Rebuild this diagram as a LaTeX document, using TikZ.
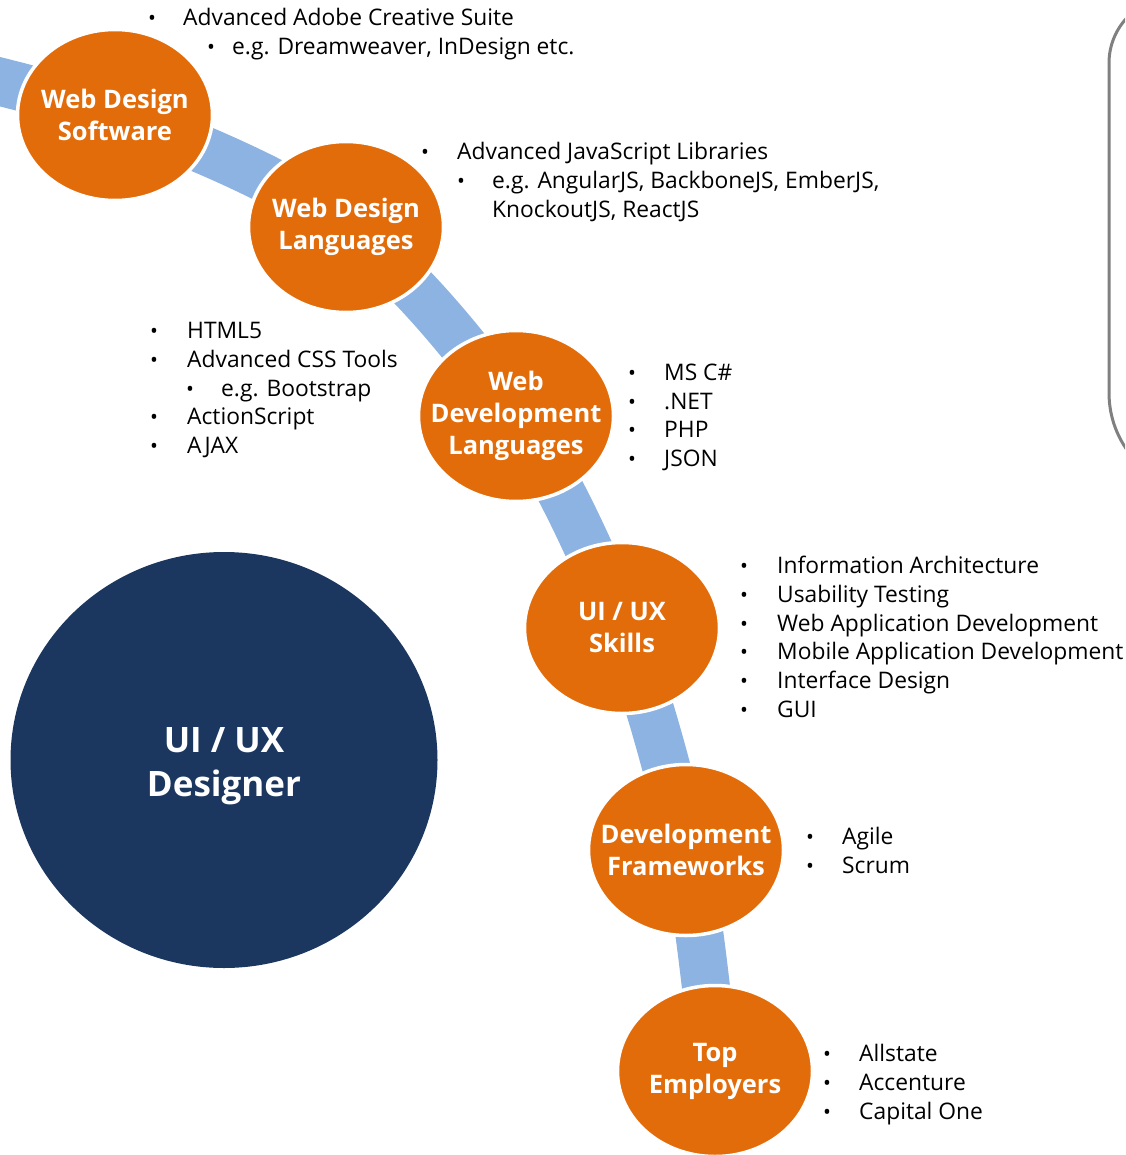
\documentclass[tikz,border=0pt]{standalone}
\usepackage{fontspec}
\setmainfont{Open Sans}
\usetikzlibrary{shapes.geometric}
\definecolor{orng}{HTML}{E36C0A}
\definecolor{navy}{HTML}{1B375F}
\definecolor{bandblue}{HTML}{8DB3E2}
\definecolor{framegray}{HTML}{808080}
\tikzset{
  band/.style={draw=bandblue, line width=48pt},
  circ/.style={ellipse, fill=orng, draw=white, line width=3.5pt, minimum width=195pt, minimum height=171pt, inner sep=0pt},
  ctext/.style={inner sep=0pt, text=white, font=\bfseries\fontsize{25.5}{32}\selectfont, align=center},
  bigcirc/.style={ellipse, fill=navy, draw=none, minimum width=427pt, minimum height=416pt, inner sep=0pt},
  bigtxt/.style={inner sep=0pt, text=white, font=\bfseries\fontsize{35}{44}\selectfont, align=center},
  txt/.style={anchor=base west, inner sep=0pt, font=\fontsize{22.8}{28}\selectfont, text=black},
  bul/.style={anchor=base west, inner sep=0pt, font=\fontsize{21}{28}\selectfont, text=black},
  frame/.style={draw=framegray, line width=3pt}
}
\newcommand{\itemline}[5]{\node[bul] (#1b) at (#2,#4) {•};\node[txt] (#1) at (#3,#4) {#5};}
\begin{document}
\begin{tikzpicture}[x=1pt,y=-1pt]
\useasboundingbox (0,0) rectangle (1125,1155);
\clip (0,0) rectangle (1125,1155);
% centres
\coordinate (p0) at (-120,54);
\coordinate (p1) at (115,115);
\coordinate (p2) at (346,227);
\coordinate (p3) at (516,416);
\coordinate (p4) at (622,628);
\coordinate (p5) at (686,850);
\coordinate (p6) at (715,1071);
% band
\draw[band] plot[smooth, tension=0.55] coordinates {(p0) (p1) (p2) (p3) (p4) (p5) (p6)};
% circles
\node[circ] (wds) at (p1) {};
\node[ctext] (wdst) at (p1) {Web Design\\Software};
\node[circ] (wdl) at (p2) {};
\node[ctext] (wdlt) at (p2) {Web Design\\Languages};
\node[circ] (wdev) at (p3) {};
\node[ctext] (wdevt) at (p3) {Web\\Development\\Languages};
\node[circ] (uix) at (p4) {};
\node[ctext] (uixt) at (p4) {UI / UX\\Skills};
\node[circ] (dfw) at (p5) {};
\node[ctext] (dfwt) at (p5) {Development\\Frameworks};
\node[circ] (tem) at (p6) {};
\node[ctext] (temt) at (p6) {Top\\Employers};
\node[bigcirc] (des) at (224,760) {};
\node[bigtxt] (destxt) at (224,766) {UI / UX\\Designer};
% frame on the right
\draw[frame] (1175,-3) arc[start angle=270, end angle=180, radius=66] -- (1109,393) arc[start angle=180, end angle=90, radius=99];
% text blocks
\itemline{a1}{148}{183}{26}{Advanced Adobe Creative Suite}
\itemline{a2}{207}{232}{55}{e.g. Dreamweaver, InDesign etc.}
\itemline{b1}{421}{457}{160}{Advanced JavaScript Libraries}
\itemline{b2}{457}{492}{189}{e.g. AngularJS, BackboneJS, EmberJS,}
\node[txt] (b3) at (492,218) {KnockoutJS, ReactJS};
\itemline{c1}{150}{187}{338}{HTML5}
\itemline{c2}{150}{187}{367}{Advanced CSS Tools}
\itemline{c3}{186}{221}{396}{e.g. Bootstrap}
\itemline{c4}{150}{187}{424}{ActionScript}
\itemline{c5}{150}{187}{453}{AJAX}
\itemline{d1}{628}{664}{380}{MS C\#}
\itemline{d2}{628}{664}{409}{.NET}
\itemline{d3}{628}{664}{437}{PHP}
\itemline{d4}{628}{664}{466}{JSON}
\itemline{e1}{740}{777}{573}{Information Architecture}
\itemline{e2}{740}{777}{602}{Usability Testing}
\itemline{e3}{740}{777}{631}{Web Application Development}
\itemline{e4}{740}{777}{659}{Mobile Application Development}
\itemline{e5}{740}{777}{688}{Interface Design}
\itemline{e6}{740}{777}{717}{GUI}
\itemline{f1}{806}{842}{844}{Agile}
\itemline{f2}{806}{842}{873}{Scrum}
\itemline{g1}{823}{859}{1061}{Allstate}
\itemline{g2}{823}{859}{1090}{Accenture}
\itemline{g3}{823}{859}{1119}{Capital One}
\end{tikzpicture}
\end{document}
